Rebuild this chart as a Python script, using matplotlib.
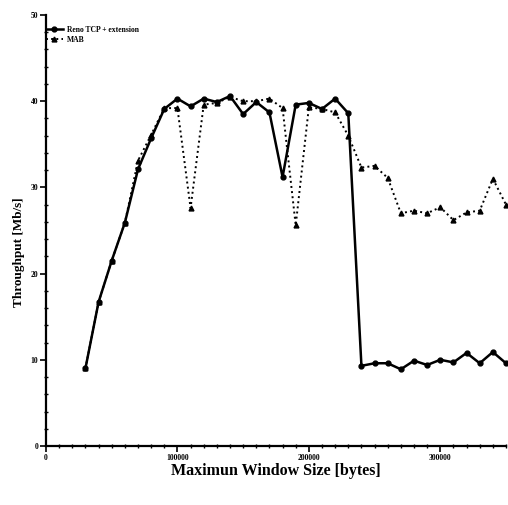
import matplotlib
matplotlib.use("Agg")
import matplotlib.pyplot as plt
from matplotlib.ticker import MultipleLocator

# window sizes (bytes)
window = [30000, 40000, 50000, 60000, 70000, 80000, 90000, 100000,
          110000, 120000, 130000, 140000, 150000, 160000, 170000, 180000,
          190000, 200000, 210000, 220000, 230000, 240000, 250000, 260000,
          270000, 280000, 290000, 300000, 310000, 320000, 330000, 340000,
          350000]

# throughput (Mb/s)
reno = [9.0, 16.7, 21.5, 25.9, 32.1, 35.7, 39.1, 40.3,
        39.4, 40.3, 39.9, 40.6, 38.5, 39.9, 38.7, 31.2,
        39.6, 39.8, 39.1, 40.3, 38.6, 9.3, 9.6, 9.6,
        8.9, 9.9, 9.4, 10.0, 9.7, 10.8, 9.6, 10.9,
        9.6]
mab = [9.0, 16.7, 21.5, 25.9, 33.1, 36.1, 39.2, 39.2,
       27.6, 39.6, 39.8, 40.5, 40.0, 40.0, 40.3, 39.2,
       25.6, 39.3, 39.1, 38.7, 36.0, 32.3, 32.5, 31.1,
       27.0, 27.3, 27.0, 27.7, 26.2, 27.1, 27.3, 31.0,
       28.0]

xticks = [0, 100000, 200000, 300000]
xtick_labels = ["0", "100000", "200000", "300000"]
yticks = [0, 10, 20, 30, 40, 50]

plt.rcParams["font.family"] = "Liberation Serif"
plt.rcParams["font.weight"] = "bold"

fig = plt.figure(figsize=(5.08, 5.05), dpi=100)
ax = fig.add_axes([46 / 508, 1 - 446 / 505, 460 / 508, 431 / 505])

ax.plot(window, reno, "-", color="black", lw=1.8, marker="o", ms=3.5,
        label="Reno TCP + extension", clip_on=False)
ax.plot(window, mab, ":", color="black", lw=1.4, marker="^", ms=3.5,
        label="MAB", clip_on=False)

ax.set_xlim(0, 350000)
ax.set_ylim(0, 50)
ax.set_xticks(xticks)
ax.set_xticklabels(xtick_labels)
ax.set_yticks(yticks)
ax.xaxis.set_minor_locator(MultipleLocator(10000))
ax.yaxis.set_minor_locator(MultipleLocator(2))
ax.tick_params(which="major", direction="out", length=4, width=1.2,
               labelsize=5.5, pad=1.5)
ax.tick_params(which="minor", direction="inout", length=3, width=1)

for s in ["top", "right"]:
    ax.spines[s].set_visible(False)
for s in ["left", "bottom"]:
    ax.spines[s].set_linewidth(1.6)

ax.set_xlabel("Maximun Window Size [bytes]", fontsize=11.5, fontweight="bold",
              labelpad=1)
ax.set_ylabel("Throughput [Mb/s]", fontsize=9.5, fontweight="bold")
ax.yaxis.set_label_coords(-0.045, 0.45)

ax.legend(loc="upper left", bbox_to_anchor=(0.0, 0.975), frameon=False,
          fontsize=5.5, handlelength=2.2, handletextpad=0.6,
          borderpad=0, borderaxespad=0, labelspacing=0.3)

fig.savefig("out.png", dpi=100)
